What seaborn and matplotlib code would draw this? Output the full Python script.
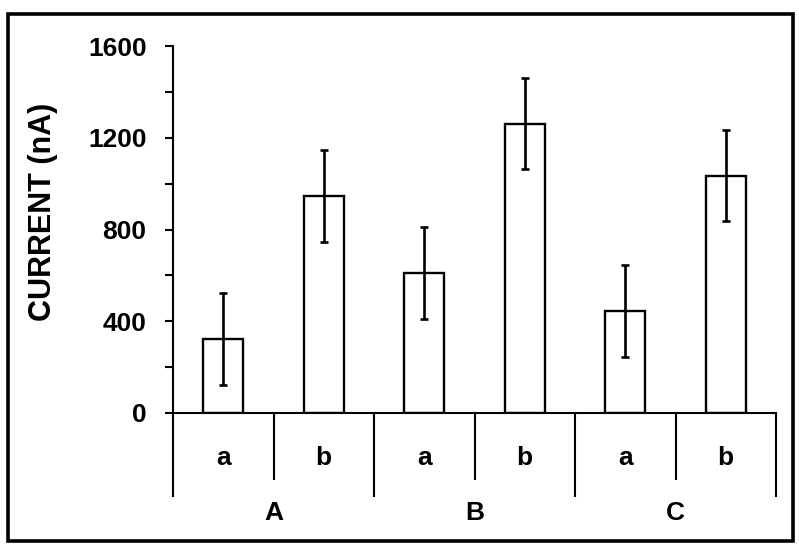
import matplotlib
matplotlib.use("Agg")
import matplotlib.pyplot as plt
import matplotlib.transforms as mtransforms
from matplotlib.patches import Rectangle
import pandas as pd
import seaborn as sns

# data
groups = ["A", "A", "B", "B", "C", "C"]
subgroups = ["a", "b", "a", "b", "a", "b"]
current = [322, 946, 609, 1262, 446, 1035]
current_err = [200, 200, 200, 200, 200, 200]
group_names = ["A", "B", "C"]
y_ticks = list(range(0, 1601, 200))

sns.set_theme(style="white")
plt.rcParams["font.family"] = ["Liberation Sans", "DejaVu Sans"]
plt.rcParams["font.weight"] = "bold"
plt.rcParams["text.color"] = "black"
plt.rcParams["ytick.color"] = "black"
plt.rcParams["axes.labelcolor"] = "black"

df = pd.DataFrame({
    "cond": [f"{g}-{s}" for g, s in zip(groups, subgroups)],
    "group": groups,
    "sub": subgroups,
    "current": current,
    "err": current_err,
})

fig = plt.figure(figsize=(7.99, 5.52), dpi=100)
ax = fig.add_axes([173 / 799, (552 - 413) / 552, (776 - 173) / 799, 367 / 552])

sns.barplot(data=df, x="cond", y="current", color="white", saturation=1,
            edgecolor="black", linewidth=1.7, width=0.4, errorbar=None, ax=ax)
ax.errorbar(range(len(df)), df["current"], yerr=df["err"], fmt="none",
            ecolor="black", elinewidth=1.9, capsize=3, capthick=1.9)

ax.set_xlim(-0.5, len(df) - 0.5)
ax.set_ylim(0, 1600)
ax.set_yticks(y_ticks)
ax.set_yticklabels([str(t) if t % 400 == 0 else "" for t in y_ticks])
ax.tick_params(axis="y", direction="out", length=6, width=1.5, pad=13,
               labelsize=19, left=True, colors="black")
ax.tick_params(axis="x", bottom=False, labelbottom=False)
for lab in ax.get_yticklabels():
    lab.set_fontweight("bold")

for side in ["top", "right"]:
    ax.spines[side].set_visible(False)
for side in ["left", "bottom"]:
    ax.spines[side].set_color("black")
    ax.spines[side].set_linewidth(1.5)

ax.set_xlabel("")
ax.set_ylabel("CURRENT (nA)", fontsize=22, fontweight="bold", color="black")
ax.yaxis.set_label_coords(-0.19, 0.548)

# two-level category axis below the plot
trans = mtransforms.blended_transform_factory(ax.transData, ax.transAxes)
n = len(df)
for i in range(n + 1):
    x = i - 0.5
    y_end = -0.229 if i % 2 == 0 else -0.183
    ax.plot([x, x], [0, y_end], color="black", lw=1.5, transform=trans,
            clip_on=False, solid_capstyle="butt")
for i, s in enumerate(df["sub"]):
    ax.text(i, -0.123, s, transform=trans, ha="center", va="center",
            fontsize=19, fontweight="bold", color="black")
for k, g in enumerate(group_names):
    ax.text(2 * k + 0.5, -0.272, g, transform=trans, ha="center", va="center",
            fontsize=19, fontweight="bold", color="black")

# outer frame
fig.patches.append(Rectangle((8 / 799, 11 / 552), 785 / 799, 527 / 552,
                             transform=fig.transFigure, fill=False,
                             edgecolor="black", linewidth=2.6))

fig.savefig("out.png", dpi=100)
